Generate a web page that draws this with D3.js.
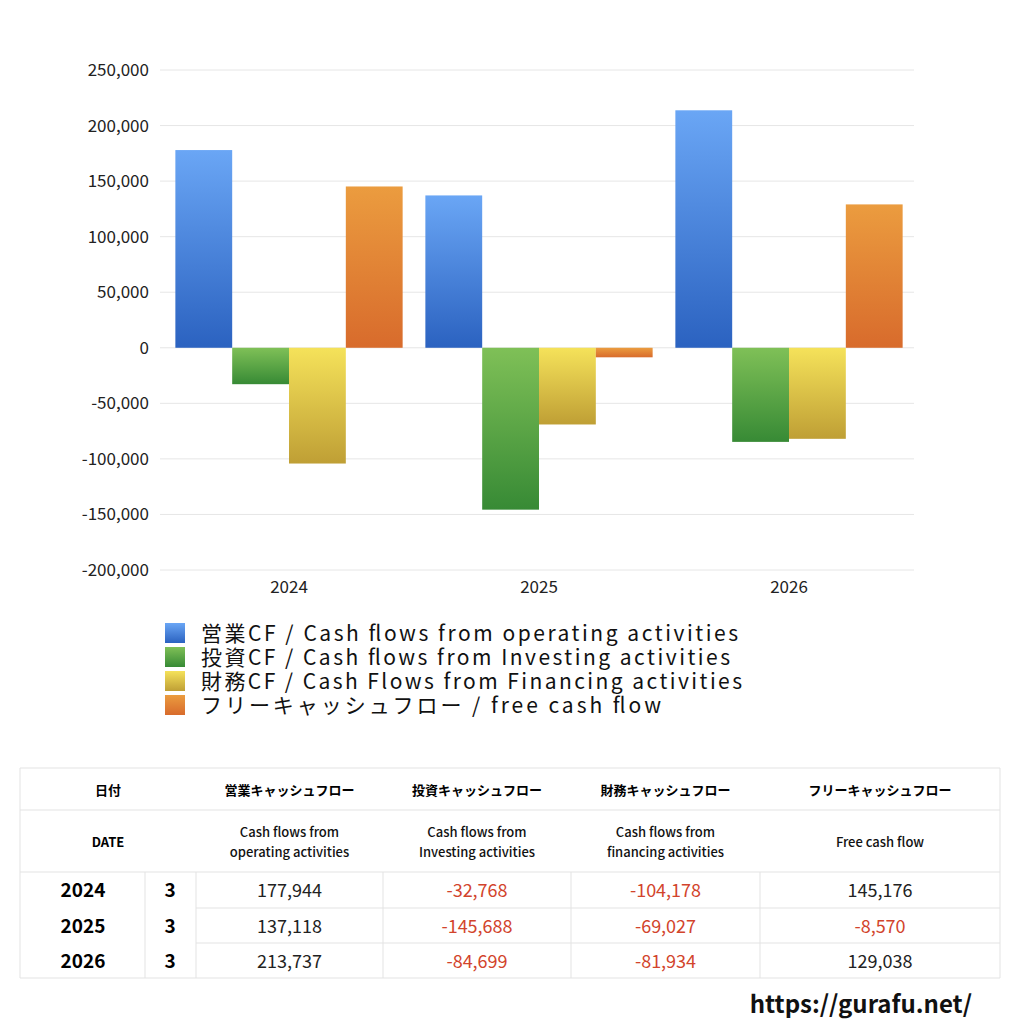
<!DOCTYPE html>
<html><head><meta charset="utf-8">
<script src="https://cdn.jsdelivr.net/npm/d3@7"></script>
<style>body{margin:0;background:#fff}text{font-family:"Noto Sans CJK JP","Noto Sans",sans-serif}</style>
</head><body><svg id="c" width="1024" height="1024"></svg>
<script>
var years = ["2024", "2025", "2026"];
var seriesNames = ["営業CF / Cash flows from operating activities","投資CF / Cash flows from Investing activities","財務CF / Cash Flows from Financing activities","フリーキャッシュフロー / free cash flow"];
var legendWidths = [537, 529, 541, 460];
var operating = [177944, 137118, 213737];
var investing = [-32768, -145688, -84699];
var financing = [-104178, -69027, -81934];
var freeCF = [145176, -8570, 129038];
var yTicks = [250000,200000,150000,100000,50000,0,-50000,-100000,-150000,-200000];
var colors = [["#6aa6f5","#2b62c0"],["#7fc057","#378a35"],["#f5e25a","#bf9f35"],["#eb9c3f","#d86b2c"]];

var fmt = function(v){ return d3.format(",")(v).replace("\u2212","-"); };
var svg = d3.select("#c");
var series = [operating, investing, financing, freeCF];
var x = d3.scaleBand().domain(years).range([164,914]);
var xs = d3.scaleBand().domain(d3.range(4)).range([0, x.bandwidth()]).paddingOuter(0.2);
var y = d3.scaleLinear().domain([-200000,250000]).range([570,70]);

var defs = svg.append("defs");
colors.forEach(function(c,i){
	var g = defs.append("linearGradient").attr("id","g"+i).attr("x1",0).attr("y1",0).attr("x2",0).attr("y2",1);
	g.append("stop").attr("offset","0%").attr("stop-color",c[0]);
	g.append("stop").attr("offset","100%").attr("stop-color",c[1]);
});

svg.append("g").selectAll("line").data(yTicks).join("line")
	.attr("x1",160).attr("x2",914).attr("y1",function(d){return y(d)}).attr("y2",function(d){return y(d)})
	.attr("stroke","#e6e6e6");
svg.append("g").selectAll("text").data(yTicks).join("text")
	.attr("x",149).attr("y",function(d){return y(d)+6}).attr("text-anchor","end")
	.attr("font-size",17).attr("fill","#222").text(fmt);

series.forEach(function(s,i){
	svg.append("g").selectAll("rect").data(s).join("rect")
		.attr("x",function(d,j){return x(years[j])+xs(i)})
		.attr("width",xs.bandwidth())
		.attr("y",function(d){return y(Math.max(0,d))})
		.attr("height",function(d){return Math.abs(y(d)-y(0))})
		.attr("fill","url(#g"+i+")");
});
svg.append("g").selectAll("text").data(years).join("text")
	.attr("x",function(d){return x(d)+x.bandwidth()/2}).attr("y",593).attr("text-anchor","middle")
	.attr("font-size",17).attr("fill","#222").text(function(d){return d});

var lg = svg.append("g").selectAll("g").data(seriesNames).join("g")
	.attr("transform",function(d,i){return "translate(165,"+(623+i*24)+")"});
lg.append("rect").attr("width",20).attr("height",20).attr("fill",function(d,i){return "url(#g"+i+")"});
lg.append("text").attr("x",36).attr("y",18).attr("font-size",21).attr("fill","#111")
	.attr("textLength",function(d,i){return legendWidths[i]}).attr("lengthAdjust","spacing")
	.text(function(d){return d});

// table
var cols = [20,145,196,383,571,760,1000];
var t = svg.append("g");
function hline(yy,x1){t.append("line").attr("x1",x1).attr("x2",1000).attr("y1",yy).attr("y2",yy).attr("stroke","#e3e3e3");}
[768,810,872,978].forEach(function(v){hline(v,20)});
[908,943].forEach(function(v){hline(v,196)});
t.append("line").attr("x1",20).attr("x2",20).attr("y1",768).attr("y2",978).attr("stroke","#e3e3e3");
t.append("line").attr("x1",1000).attr("x2",1000).attr("y1",768).attr("y2",978).attr("stroke","#e3e3e3");
cols.slice(1,6).forEach(function(c){
	t.append("line").attr("x1",c).attr("x2",c).attr("y1",872).attr("y2",978).attr("stroke","#e3e3e3");
});
var head1 = ["営業キャッシュフロー","投資キャッシュフロー","財務キャッシュフロー","フリーキャッシュフロー"];
var head2 = [["Cash flows from","operating activities"],["Cash flows from","Investing activities"],["Cash flows from","financing activities"],["Free cash flow"]];
function cx(i){return (cols[i+2]+cols[i+3])/2}
t.append("text").attr("x",108).attr("y",795).attr("text-anchor","middle").attr("font-size",13).attr("font-weight","bold").text("日付");
t.append("text").attr("x",108).attr("y",847).attr("text-anchor","middle").attr("font-size",13).attr("font-weight","bold").text("DATE");
head1.forEach(function(h,i){
	t.append("text").attr("x",cx(i)).attr("y",795).attr("text-anchor","middle").attr("font-size",13).attr("font-weight","bold").text(h);
	head2[i].forEach(function(l,k){
		t.append("text").attr("x",cx(i)).attr("y",head2[i].length==1?847:837+k*20).attr("text-anchor","middle").attr("font-size",13).attr("font-weight","500").attr("fill","#111").text(l);
	});
});
var rowY = [890,926,961];
years.forEach(function(yr,j){
	t.append("text").attr("x",83).attr("y",rowY[j]+7).attr("text-anchor","middle").attr("font-size",19).attr("font-weight","bold").text(yr);
	t.append("text").attr("x",170).attr("y",rowY[j]+7).attr("text-anchor","middle").attr("font-size",19).attr("font-weight","bold").text("3");
	series.forEach(function(s,i){
		t.append("text").attr("x",cx(i)).attr("y",rowY[j]+7).attr("text-anchor","middle").attr("font-size",18)
			.attr("fill",s[j]<0?"#d2442c":"#222").text(fmt(s[j]));
	});
});
svg.append("text").attr("x",972).attr("y",1013).attr("text-anchor","end").attr("font-size",24).attr("font-weight","bold").attr("fill","#111").text("https://gurafu.net/");
</script></body></html>
